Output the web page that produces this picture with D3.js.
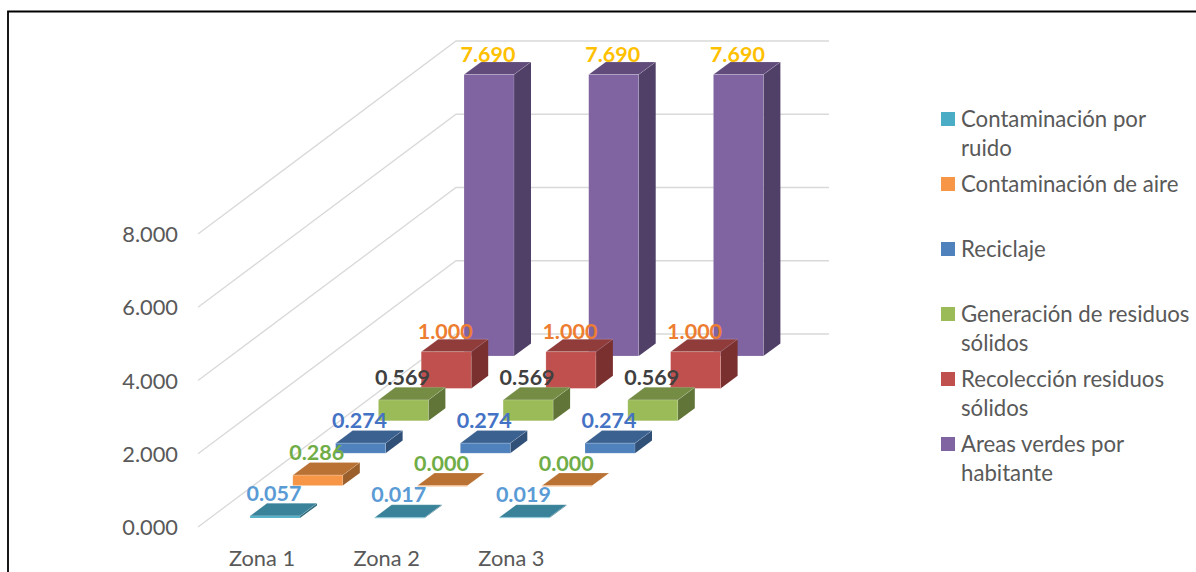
<!DOCTYPE html>
<html><head><meta charset="utf-8">
<script src="https://cdn.jsdelivr.net/npm/d3@7"></script>
<style>html,body{margin:0;padding:0;background:#fff}svg{display:block}text{font-family:Lato,"Open Sans",sans-serif}</style>
</head><body><div id="c"></div>
<script>
const zones = ["Zona 1","Zona 2","Zona 3"];
const seriesNames = ["Contaminación por ruido","Contaminación de aire","Reciclaje","Generación de residuos sólidos","Recolección residuos sólidos","Areas verdes por habitante"];
const legendLines = [["Contaminación por","ruido"],["Contaminación de aire"],["Reciclaje"],["Generación de residuos","sólidos"],["Recolección residuos","sólidos"],["Areas verdes por","habitante"]];
const ruido = [0.057,0.017,0.019];
const aire = [0.286,0,0];
const reciclaje = [0.274,0.274,0.274];
const generacion = [0.569,0.569,0.569];
const recoleccion = [1,1,1];
const areas = [7.69,7.69,7.69];
const allValues = [ruido,aire,reciclaje,generacion,recoleccion,areas];
const yTicks = [0,2,4,6,8];
const frontColors = ["#4BACC6","#F79646","#4F81BD","#9BBB59","#C0504D","#8064A2"];
const topColors = ["#39829A","#B97233","#3B6190","#748C43","#903C3A","#604B7A"];
const sideColors = ["#2F6B7D","#9A5F2A","#315078","#617538","#7A302F","#503F66"];
const labelColors = ["#5B9BD5","#70AD47","#4472C4","#404040","#ED7D31","#FFC000"];

const W=1196,H=572;
const svg=d3.select("#c").append("svg").attr("width",W).attr("height",H);
const barW=50, capX=17, capY=12.6;
const xZone=d3.scalePoint().domain(zones).range([250,499.4]);
const rowIdx=d3.range(seriesNames.length);
const rowX=d3.scalePoint().domain(rowIdx).range([0,214]);
const rowY=d3.scalePoint().domain(rowIdx).range([518,356]);
const h=d3.scaleLinear().domain([0,8]).range([0,292.8]);
const sideY=d3.scaleLinear().domain([0,8]).range([527,234]);
const backY=d3.scaleLinear().domain([0,8]).range([334,41]);

// frame
svg.append("path").attr("d",`M8,${H} V11.5 H${W}`).attr("fill","none").attr("stroke","#000").attr("stroke-width",1.8);

// walls
const grid=svg.append("g").attr("stroke","#d9d9d9").attr("stroke-width",1.3).attr("fill","none");
yTicks.forEach(t=>{
  grid.append("path").attr("d",`M198,${sideY(t)} L456,${backY(t)} H829`);
});
// y tick labels
svg.append("g").selectAll("text").data(yTicks).join("text")
  .attr("x",178).attr("y",d=>sideY(d)+8).attr("text-anchor","end")
  .attr("font-size",21.8).attr("fill","#595959").text(d=>d3.format(".3f")(d));
// category labels
svg.append("g").selectAll("text").data(zones).join("text")
  .attr("x",d=>xZone(d)+12).attr("y",566).attr("text-anchor","middle")
  .attr("font-size",21.8).attr("fill","#595959").text(d=>d);

// bars, back row first
const bars=svg.append("g");
[...rowIdx].reverse().forEach(r=>{
  zones.forEach((z,zi)=>{
    const v=allValues[r][zi];
    const x=xZone(z)+rowX(r), base=rowY(r), top=base-h(v);
    const g=bars.append("g");
    g.append("path").attr("fill",sideColors[r])
      .attr("d",`M${x+barW},${top} l${capX},${-capY} V${base-capY} L${x+barW},${base} Z`);
    g.append("path").attr("fill",topColors[r]).attr("stroke","#fff").attr("stroke-opacity",.25).attr("stroke-width",.7)
      .attr("d",`M${x},${top} l${capX},${-capY} h${barW} l${-capX},${capY} Z`);
    g.append("rect").attr("x",x).attr("y",top).attr("width",barW).attr("height",Math.max(h(v),0.8))
      .attr("fill",frontColors[r]).attr("stroke","#fff").attr("stroke-opacity",.25).attr("stroke-width",.7);
  });
});
// data labels on top
const labels=svg.append("g");
rowIdx.forEach(r=>{
  zones.forEach((z,zi)=>{
    const v=allValues[r][zi];
    labels.append("text")
      .attr("x",xZone(z)+rowX(r)+barW/2-1).attr("y",rowY(r)-h(v)-(r===5||r===4?13:15))
      .attr("text-anchor","middle").attr("font-size",21.5).attr("font-weight",700)
      .attr("fill",labelColors[r]).text(d3.format(".3f")(v));
  });
});
// legend
const legY=d3.scalePoint().domain(rowIdx).range([119,444]);
const leg=svg.append("g");
rowIdx.forEach(r=>{
  leg.append("rect").attr("x",941).attr("y",legY(r)-7).attr("width",14).attr("height",14).attr("fill",frontColors[r]);
  legendLines[r].forEach((l,i)=>{
    leg.append("text").attr("x",961).attr("y",legY(r)+8+i*29)
      .attr("font-size",22.2).attr("fill","#595959").text(l);
  });
});
</script></body></html>
